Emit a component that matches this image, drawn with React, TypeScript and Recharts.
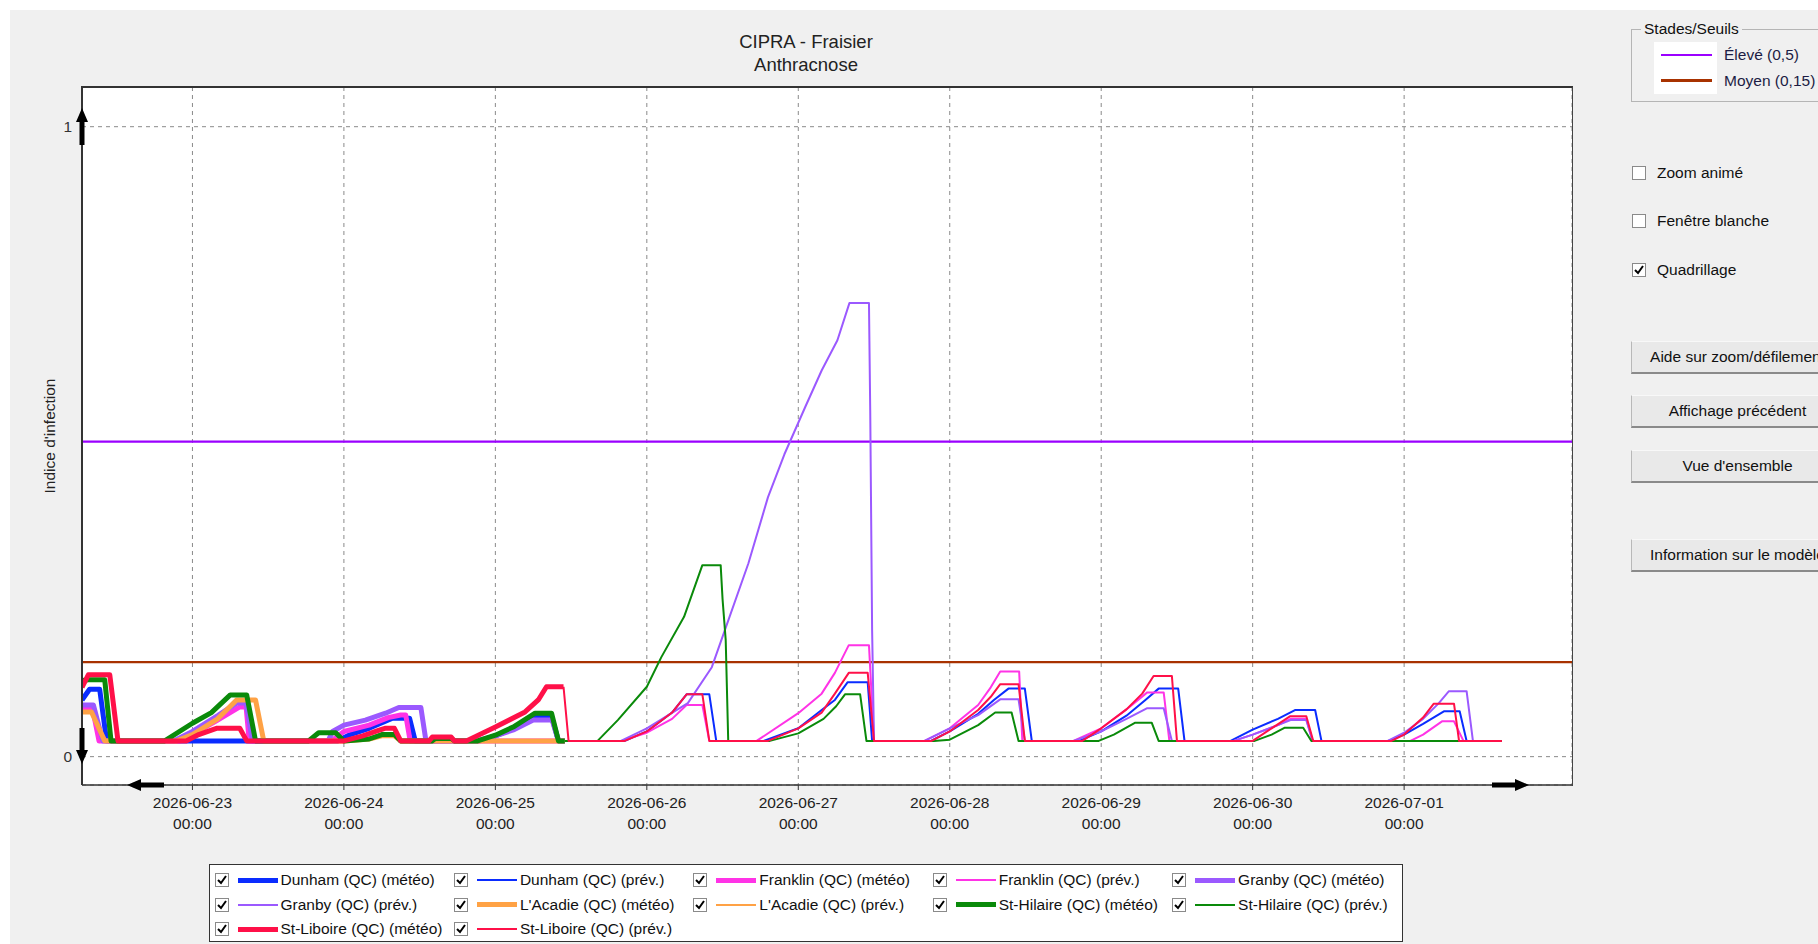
import React from 'react';
import { LineChart, Line, XAxis, YAxis, CartesianGrid, ReferenceLine } from 'recharts';

// ---------- data (x = hours since 2026-06-22 00:00, y = infection index) ----------
const DAY_TICKS = [24, 48, 72, 96, 120, 144, 168, 192, 216];
const DAY_LABELS = ['2026-06-23', '2026-06-24', '2026-06-25', '2026-06-26', '2026-06-27', '2026-06-28', '2026-06-29', '2026-06-30', '2026-07-01'];
const TIME_LABEL = '00:00';
const Y_TICKS = [0, 1];
const X_DOMAIN = [6.5, 242.6];
const Y_DOMAIN = [-0.045, 1.063];

const THRESHOLDS = [
  { name: 'Élevé (0,5)', value: 0.5, color: '#9b00ff' },
  { name: 'Moyen (0,15)', value: 0.15, color: '#a83200' },
];

const dunhamMeteo = [
  [6.5, 0.09], [7.7, 0.107], [9.3, 0.107], [10.4, 0.025], [47, 0.025], [49, 0.035], [52, 0.045], [55.7, 0.061], [58.4, 0.061], [59.3, 0.025],
  [69.5, 0.025], [72, 0.033], [75, 0.045], [78.3, 0.064], [80.9, 0.064], [82, 0.025], [83, 0.025],
];
const dunhamPrev = [
  [83, 0.025], [92.5, 0.025], [96, 0.04], [100, 0.07], [102.3, 0.099], [105.9, 0.099], [107, 0.025],
  [114.5, 0.025], [120, 0.045], [123.7, 0.074], [125.8, 0.09], [127.8, 0.118], [131, 0.118], [131.7, 0.025],
  [141, 0.025], [144, 0.04], [148.5, 0.068], [151, 0.09], [153.3, 0.108], [155.9, 0.108], [157, 0.025],
  [164.5, 0.025], [168, 0.04], [172, 0.065], [175, 0.09], [177.1, 0.108], [180.2, 0.108], [181.2, 0.025],
  [188.5, 0.025], [192, 0.043], [196, 0.06], [198.7, 0.074], [201.9, 0.074], [202.9, 0.025],
  [213.5, 0.025], [216, 0.035], [219, 0.052], [222.3, 0.072], [224.8, 0.072], [225.9, 0.025], [231.5, 0.025],
];
const franklinMeteo = [
  [6.5, 0.075], [8.2, 0.075], [9.2, 0.025], [22, 0.025], [24, 0.035], [28, 0.058], [31.5, 0.079], [32.5, 0.079], [33, 0.025],
  [46, 0.025], [48, 0.04], [52, 0.05], [55, 0.062], [57, 0.066], [57.8, 0.066], [58.5, 0.025], [83, 0.025],
];
const franklinPrev = [
  [83, 0.025], [92, 0.025], [96, 0.038], [100, 0.06], [102.3, 0.082], [104.8, 0.082], [105.9, 0.025],
  [113.4, 0.025], [120, 0.069], [123.7, 0.1], [125.8, 0.133], [128, 0.177], [131.2, 0.177], [132, 0.025],
  [140, 0.025], [144, 0.045], [148.5, 0.082], [150.5, 0.11], [152, 0.135], [155, 0.135], [155.5, 0.025],
  [163.6, 0.025], [168, 0.045], [172, 0.075], [175.3, 0.102], [177.9, 0.102], [178.8, 0.025],
  [189, 0.025], [192, 0.035], [196, 0.05], [198, 0.06], [200.5, 0.06], [201.5, 0.025],
  [217, 0.025], [219, 0.035], [222, 0.056], [223.9, 0.056], [225.4, 0.025], [231.5, 0.025],
];
const granbyMeteo = [
  [6.5, 0.082], [8.3, 0.082], [9.8, 0.025], [21, 0.025], [24, 0.04], [28, 0.065], [31, 0.085], [32.5, 0.085], [33.5, 0.025],
  [45.5, 0.025], [46.2, 0.04], [48, 0.05], [51.4, 0.058], [54.6, 0.069], [56.7, 0.078], [60.2, 0.078], [61, 0.025],
  [69, 0.025], [72, 0.033], [75, 0.043], [78, 0.058], [81, 0.058], [82, 0.025], [83, 0.025],
];
const granbyPrev = [
  [83, 0.025], [91.9, 0.025], [96, 0.045], [102.5, 0.085], [106.3, 0.142], [108.2, 0.196], [112.1, 0.307], [115.2, 0.412],
  [117.8, 0.48], [121.1, 0.555], [123.7, 0.613], [126.2, 0.661], [128.1, 0.72], [131.2, 0.72], [131.4, 0.55], [131.7, 0.2], [132, 0.025],
  [140, 0.025], [144, 0.045], [148.5, 0.066], [152, 0.091], [154.9, 0.091], [155.9, 0.025],
  [163.6, 0.025], [168, 0.04], [172, 0.06], [175.3, 0.077], [177.9, 0.077], [179.2, 0.025],
  [189, 0.025], [192, 0.035], [196, 0.05], [198, 0.058], [200.5, 0.058], [201.5, 0.025],
  [213.4, 0.025], [216, 0.038], [219, 0.06], [221.5, 0.085], [223.1, 0.104], [225.9, 0.104], [226.9, 0.025], [231.5, 0.025],
];
const acadieMeteo = [
  [6.5, 0.071], [8, 0.071], [10.1, 0.025], [21.5, 0.025], [24, 0.035], [28, 0.06], [31, 0.09], [34, 0.09], [35.3, 0.025],
  [48, 0.025], [52, 0.028], [54, 0.033], [56, 0.033], [57, 0.025], [83, 0.025],
];
// L'Acadie forecast stays on the baseline the whole time (fully covered by the other forecasts in the reference)
const acadiePrev = [[83, 0.025], [231.5, 0.025]];
const hilaireMeteo = [
  [6.5, 0.121], [7.5, 0.122], [10.1, 0.122], [11.1, 0.025], [19.6, 0.025], [24, 0.053], [27, 0.07], [30, 0.098], [32.6, 0.098], [34, 0.025],
  [42.4, 0.025], [44, 0.038], [46.7, 0.038], [48, 0.025], [52, 0.028], [54, 0.035], [56, 0.035], [57, 0.025],
  [62, 0.025], [62.5, 0.029], [65, 0.029], [65.5, 0.025],
  [69.2, 0.025], [72, 0.034], [75, 0.048], [78.3, 0.069], [80.9, 0.069], [82, 0.025], [83, 0.025],
];
const hilairePrev = [
  [83, 0.025], [88.2, 0.025], [91.4, 0.058], [96, 0.111], [98.3, 0.158], [101.9, 0.222], [104.8, 0.304], [107.7, 0.304], [108, 0.25], [108.5, 0.185], [108.9, 0.025],
  [115.5, 0.025], [120, 0.037], [124, 0.06], [126, 0.08], [127.4, 0.099], [129.8, 0.099], [130.8, 0.025],
  [141.5, 0.025], [144, 0.027], [148.5, 0.05], [151.2, 0.07], [153.8, 0.07], [154.9, 0.025],
  [167.6, 0.025], [170, 0.035], [173.4, 0.054], [176, 0.054], [177.1, 0.025],
  [192.3, 0.025], [195, 0.035], [197.1, 0.046], [200, 0.046], [201.3, 0.025], [231.5, 0.025],
];
const liboireMeteo = [
  [6.5, 0.11], [7.5, 0.13], [10.9, 0.13], [12.2, 0.025], [23, 0.025], [25, 0.035], [27.8, 0.045], [31.5, 0.045], [32.6, 0.025],
  [48, 0.025], [51, 0.033], [53.6, 0.042], [54.5, 0.045], [56, 0.045], [57, 0.025],
  [61.5, 0.025], [62, 0.031], [65, 0.031], [65.5, 0.025],
  [67.4, 0.025], [72, 0.047], [76.7, 0.071], [78.8, 0.09], [80.1, 0.111], [82.8, 0.111],
];
const liboirePrev = [
  [82.8, 0.111], [83.6, 0.025], [92.5, 0.025], [96, 0.04], [100, 0.07], [102.3, 0.099], [104.8, 0.099], [105.9, 0.025],
  [115.2, 0.025], [120, 0.045], [123.7, 0.07], [125.8, 0.1], [128, 0.133], [131, 0.133], [132, 0.025],
  [141.1, 0.025], [144, 0.04], [148.5, 0.074], [150.5, 0.095], [152, 0.115], [154.9, 0.115], [155.9, 0.025],
  [165, 0.025], [168, 0.045], [172, 0.075], [174.5, 0.1], [176.3, 0.128], [179.2, 0.128], [180, 0.025],
  [192, 0.025], [195, 0.045], [197.9, 0.064], [200.5, 0.064], [201.6, 0.025],
  [214, 0.025], [216, 0.035], [219, 0.062], [220.7, 0.084], [223.9, 0.084], [224.7, 0.025], [231.5, 0.025],
];

const SERIES = [
  { name: 'Dunham (QC) (météo)', color: '#0a2cff', thick: true, pts: dunhamMeteo },
  { name: 'Dunham (QC) (prév.)', color: '#0a2cff', thick: false, pts: dunhamPrev },
  { name: 'Franklin (QC) (météo)', color: '#ff33e6', thick: true, pts: franklinMeteo },
  { name: 'Franklin (QC) (prév.)', color: '#ff33e6', thick: false, pts: franklinPrev },
  { name: 'Granby (QC) (météo)', color: '#9b59ff', thick: true, pts: granbyMeteo },
  { name: 'Granby (QC) (prév.)', color: '#9b59ff', thick: false, pts: granbyPrev },
  { name: "L'Acadie (QC) (météo)", color: '#ffa245', thick: true, pts: acadieMeteo },
  { name: "L'Acadie (QC) (prév.)", color: '#ffa245', thick: false, pts: acadiePrev, covered: true },
  { name: 'St-Hilaire (QC) (météo)', color: '#0a8a0a', thick: true, pts: hilaireMeteo },
  { name: 'St-Hilaire (QC) (prév.)', color: '#0a8a0a', thick: false, pts: hilairePrev },
  { name: 'St-Liboire (QC) (météo)', color: '#ff1048', thick: true, pts: liboireMeteo },
  { name: 'St-Liboire (QC) (prév.)', color: '#ff1048', thick: false, pts: liboirePrev },
];

const FONT = '"Liberation Sans", Arial, sans-serif';

function XTick(props: any) {
  const { x, y, payload } = props;
  const i = DAY_TICKS.indexOf(payload.value);
  return (
    <text x={x} y={y} textAnchor="middle" fontSize={15.5} fill="#222" fontFamily={FONT}>
      <tspan x={x} dy={16}>{DAY_LABELS[i]}</tspan>
      <tspan x={x} dy={21}>{TIME_LABEL}</tspan>
    </text>
  );
}

function CheckBox({ checked, size = 14 }: { checked: boolean; size?: number }) {
  return (
    <svg width={size} height={size} style={{ display: 'block' }}>
      <rect x={0.5} y={0.5} width={size - 1} height={size - 1} fill="#fff" stroke="#8a8a8a" />
      {checked && <polyline points={`3,7 6,10 11,3`} fill="none" stroke="#000" strokeWidth={2} />}
    </svg>
  );
}

function Button({ top, text }: { top: number; text: string }) {
  return (
    <div style={{
      position: 'absolute', left: 1631, top, width: 212, height: 33, boxSizing: 'border-box',
      background: '#e9e9e9', borderLeft: '1px solid #b8b8b8', borderBottom: '2px solid #8a8a8a', borderTop: '1px solid #f8f8f8',
      display: 'flex', alignItems: 'center', justifyContent: 'center', whiteSpace: 'nowrap', fontSize: 15.5, color: '#111',
    }}>{text}</div>
  );
}

export default function App() {
  const legendCols = 5;
  return (
    <div style={{ position: 'absolute', left: 0, top: 0, width: 1818, height: 944, background: '#fff', overflow: 'hidden', fontFamily: FONT }}>
      <div style={{ position: 'absolute', left: 10, top: 10, width: 1808, height: 934, background: '#f0f0f0' }} />

      {/* title */}
      <div style={{ position: 'absolute', left: 606, width: 400, top: 30, textAlign: 'center', fontSize: 18.5, lineHeight: '23px', color: '#222' }}>
        <div>CIPRA - Fraisier</div>
        <div>Anthracnose</div>
      </div>

      {/* y axis title */}
      <div style={{ position: 'absolute', left: 50, top: 436, transform: 'translate(-50%, -50%) rotate(-90deg)', whiteSpace: 'nowrap', fontSize: 15.5, color: '#222' }}>
        Indice d'infection
      </div>

      <div style={{ position: 'absolute', left: 0, top: 0 }}>
        <LineChart width={1818} height={944} margin={{ top: 87, right: 246, bottom: 109, left: 22 }}>
          <CartesianGrid stroke="#8a8a8a" strokeDasharray="4 4" fill="#ffffff" />
          <XAxis dataKey="h" type="number" domain={X_DOMAIN} ticks={DAY_TICKS} allowDataOverflow height={50}
            tick={<XTick />} tickSize={5} axisLine={{ stroke: '#333', strokeWidth: 1.5 }} tickLine={{ stroke: '#333' }} interval={0} />
          <YAxis type="number" domain={Y_DOMAIN} ticks={Y_TICKS} allowDataOverflow width={60} tickSize={0} tickMargin={10}
            tickLine={false} axisLine={{ stroke: '#333', strokeWidth: 2 }}
            tick={{ fontSize: 15.5, fill: '#333', fontFamily: FONT }} />
          {THRESHOLDS.map((t) => (
            <ReferenceLine key={t.name} y={t.value} stroke={t.color} strokeWidth={2.2} />
          ))}
          {SERIES.map((s) => (
            <Line key={s.name} data={s.pts.map(([h, v]) => ({ h, v }))} dataKey="v" type="linear" stroke={s.color}
              strokeWidth={s.thick ? 5 : 2} dot={false} activeDot={false} isAnimationActive={false}
              strokeLinejoin="round" strokeLinecap="butt" name={s.name} hide={!!(s as any).covered} />
          ))}
        </LineChart>
      </div>

      {/* plot frame (top/right) */}
      <div style={{ position: 'absolute', left: 81, top: 86, width: 1492, height: 700, boxSizing: 'border-box', borderTop: '2px solid #333', borderRight: '1px solid #444', pointerEvents: 'none' }} />

      {/* scroll arrows */}
      <svg width={1818} height={944} style={{ position: 'absolute', left: 0, top: 0, pointerEvents: 'none' }}>
        <polygon points="82,108 88,122 84.5,122 84.5,145 79.5,145 79.5,122 76,122" fill="#000" />
        <polygon points="82,764 88,750 84.5,750 84.5,728 79.5,728 79.5,750 76,750" fill="#000" />
        <polygon points="127,785 141,779 141,782.5 164,782.5 164,787.5 141,787.5 141,791" fill="#000" />
        <polygon points="1529,785 1515,779 1515,782.5 1492,782.5 1492,787.5 1515,787.5 1515,791" fill="#000" />
      </svg>

      {/* series legend */}
      <div style={{ position: 'absolute', left: 209, top: 864, width: 1194, height: 78, boxSizing: 'border-box', background: '#fff', border: '1.5px solid #333' }}>
        {SERIES.map((s, i) => {
          const col = i % legendCols;
          const row = Math.floor(i / legendCols);
          return (
            <div key={s.name} style={{ position: 'absolute', left: 4.5 + col * 239.4, top: 6 + row * 24.7, height: 18, display: 'flex', alignItems: 'center', whiteSpace: 'nowrap' }}>
              <CheckBox checked={true} />
              <div style={{ marginLeft: 9, width: 40, height: s.thick ? 5 : 2, background: s.color }} />
              <div style={{ marginLeft: 3, fontSize: 15.5, color: '#111' }}>{s.name}</div>
            </div>
          );
        })}
      </div>

      {/* right panel: thresholds group */}
      <div style={{ position: 'absolute', left: 1631, top: 29, width: 220, height: 73, boxSizing: 'border-box', border: '1px solid #b5b5b5' }} />
      <div style={{ position: 'absolute', left: 1641, top: 19, padding: '0 3px', background: '#f0f0f0', fontSize: 15.5, lineHeight: '20px', color: '#111' }}>Stades/Seuils</div>
      <div style={{ position: 'absolute', left: 1654, top: 42, width: 63, height: 52, background: '#fff' }} />
      {THRESHOLDS.map((t, i) => (
        <React.Fragment key={t.name}>
          <div style={{ position: 'absolute', left: 1661, top: 53.5 + i * 25.5, width: 51, height: 2.5, background: t.color }} />
          <div style={{ position: 'absolute', left: 1724, top: 45 + i * 25.5, fontSize: 15.5, lineHeight: '20px', color: '#1c1c44', whiteSpace: 'nowrap' }}>{t.name}</div>
        </React.Fragment>
      ))}

      {/* right panel: options */}
      {[['Zoom animé', false, 173], ['Fenêtre blanche', false, 221], ['Quadrillage', true, 270]].map(([label, checked, cy]) => (
        <div key={label as string} style={{ position: 'absolute', left: 1632, top: (cy as number) - 10, height: 20, display: 'flex', alignItems: 'center', whiteSpace: 'nowrap' }}>
          <CheckBox checked={checked as boolean} />
          <div style={{ marginLeft: 11, fontSize: 15.5, color: '#111' }}>{label as string}</div>
        </div>
      ))}

      <Button top={341} text="Aide sur zoom/défilement" />
      <Button top={395} text="Affichage précédent" />
      <Button top={450} text="Vue d'ensemble" />
      <Button top={539} text="Information sur le modèle" />
    </div>
  );
}
